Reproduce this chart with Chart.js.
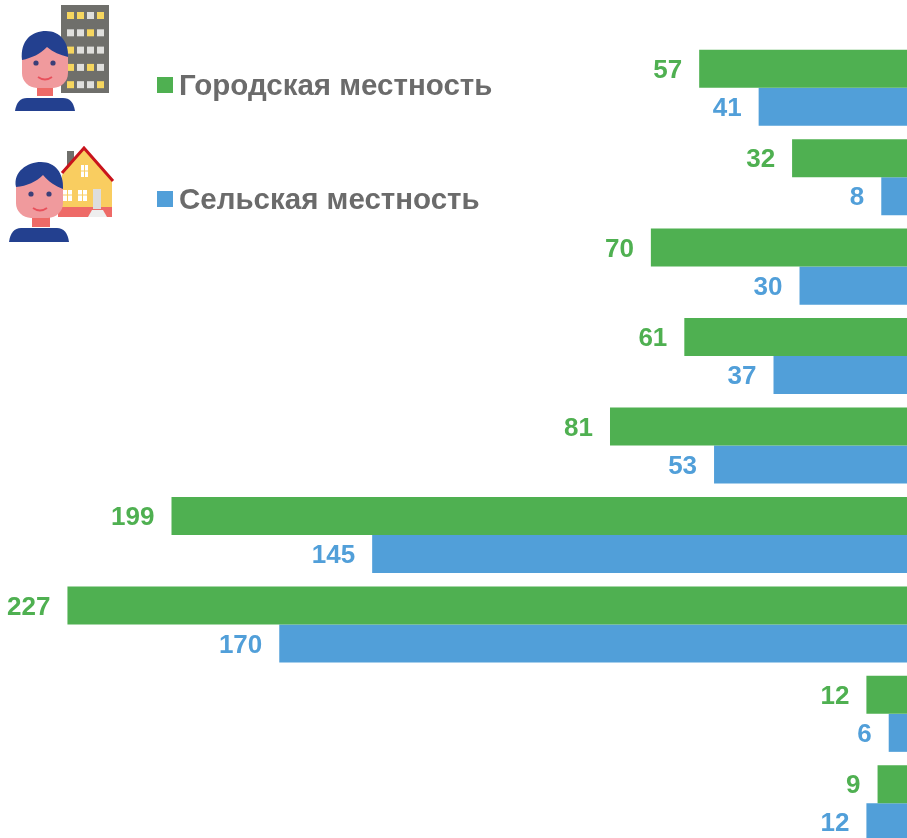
<!DOCTYPE html>
<html lang="ru"><head><meta charset="utf-8">
<script src="https://cdn.jsdelivr.net/npm/chart.js@4"></script>
<style>
html,body{margin:0;padding:0;background:#fff;width:907px;height:838px;overflow:hidden}
#wrap{position:absolute;left:0;top:0;width:907px;height:838px;overflow:hidden}
.lg{position:absolute;font:bold 29.5px "Liberation Sans",Arial,sans-serif;color:#6b6b6b;white-space:nowrap;line-height:32px}
.sw{position:absolute;width:16px;height:16px}
svg{position:absolute;left:0;top:0;filter:blur(0.5px)}
</style></head><body>
<div id="wrap"><canvas id="c" width="911" height="900"></canvas></div>
<svg width="130" height="250" viewBox="0 0 130 250">
  <!-- городской житель -->
  <rect x="61" y="5" width="48" height="88" fill="#6f6f6b"/>
  <g id="win"></g>
  <rect x="37" y="85" width="16" height="11" fill="#ee6a67"/>
  <rect x="22" y="40" width="46" height="48" rx="15" fill="#f09a9d"/>
  <path d="M22 60C20 40 32 31 46 31C60 31 69 42 68 57C60 55 53 52 47 47C40 54 32 58 22 60z" fill="#23408f"/>
  <circle cx="36" cy="63" r="2.6" fill="#3b3f78"/><circle cx="53" cy="63" r="2.6" fill="#3b3f78"/>
  <path d="M38 77q7 5 14 0" stroke="#e8505b" stroke-width="1.8" fill="none"/>
  <path d="M15 111q2-13 12-13h36q10 0 12 13z" fill="#23408f"/>
  <!-- сельский житель -->
  <rect x="67" y="151" width="7" height="22" fill="#6f6f6b"/>
  <path d="M62 175V208h50V180l-28-31z" fill="#f9cd60"/>
  <rect x="58" y="207" width="54" height="10" fill="#ee6a67"/>
  <path d="M62 173l22-25 29 33" stroke="#c9141c" stroke-width="3" fill="none"/>
  <path d="M81 165h7v12h-7zM63 190h9v11h-9zM78 190h9v11h-9z" fill="#fff"/>
  <path d="M84.500 165v12M81 171h7M67.500 190v11M63 195h9M82.500 190v11M78 195h9" stroke="#f9cd60" stroke-width="1"/>
  <rect x="93" y="189" width="8" height="20" fill="#ddd"/>
  <path d="M88 217l4-7h11l4 7z" fill="#eee"/>
  <rect x="32" y="215" width="18" height="12" fill="#ee6a67"/>
  <rect x="16" y="170" width="47" height="48" rx="15" fill="#f09a9d"/>
  <path d="M16 187C13 172 27 162 41 162C55 162 64 173 63 189C55 186 49 182 43 175C36 182 27 186 16 187z" fill="#23408f"/>
  <circle cx="31" cy="194" r="2.6" fill="#3b3f78"/><circle cx="49" cy="194" r="2.6" fill="#3b3f78"/>
  <path d="M33 208q7 5 14 0" stroke="#e8505b" stroke-width="1.8" fill="none"/>
  <path d="M9 242q2-14 12-14h36q10 0 12 14z" fill="#23408f"/>
</svg>
<div class="sw" style="left:157px;top:77px;background:#4fb051"></div>
<div class="lg" style="left:179px;top:69px">Городская местность</div>
<div class="sw" style="left:157px;top:191px;background:#519fd9"></div>
<div class="lg" style="left:179px;top:183px">Сельская местность</div>
<script>
const categories = ["1","2","3","4","5","6","7","8","9"];
const urbanValues = [57,32,70,61,81,199,227,12,9];
const ruralValues = [41,8,30,37,53,145,170,6,12];
const seriesNames = ["Городская местность","Сельская местность"];
const windowColors = ["y","y","g","y","g","g","y","g","y","g","g","g","y","g","y","g","y","g","g","y"];

const ns="http://www.w3.org/2000/svg", win=document.getElementById("win");
windowColors.forEach((k,i)=>{
  const r=document.createElementNS(ns,"rect");
  r.setAttribute("x",67+(i%4)*10); r.setAttribute("y",12+Math.floor(i/4)*17.3);
  r.setAttribute("width",7); r.setAttribute("height",7);
  r.setAttribute("fill",k==="y"?"#f6d65f":"#dfdfdd"); win.appendChild(r);
});

const valueLabels={id:"valueLabels",afterDatasetsDraw(ch){
  const x=ch.ctx; x.save();
  x.font='bold 26px "Liberation Sans",Arial,sans-serif';
  x.textAlign="right"; x.textBaseline="middle";
  ch.data.datasets.forEach((ds,i)=>{
    ch.getDatasetMeta(i).data.forEach((b,j)=>{
      x.fillStyle=ds.backgroundColor;
      x.fillText(String(ds.data[j]),b.x-17,b.y+2);
    });
  });
  x.restore();
}};

new Chart(document.getElementById("c"),{
  type:"bar",
  data:{labels:categories,datasets:[
    {label:seriesNames[0],data:urbanValues,backgroundColor:"#4fb051"},
    {label:seriesNames[1],data:ruralValues,backgroundColor:"#519fd9"}
  ]},
  options:{
    indexAxis:"y",responsive:false,animation:false,
    layout:{padding:{top:43,bottom:52,left:0,right:0}},
    categoryPercentage:0.85,barPercentage:1,
    plugins:{legend:{display:false},tooltip:{enabled:false}},
    scales:{
      x:{reverse:true,min:0,max:245.15,display:false},
      y:{display:false}
    }
  },
  plugins:[valueLabels]
});
</script>
</body></html>
